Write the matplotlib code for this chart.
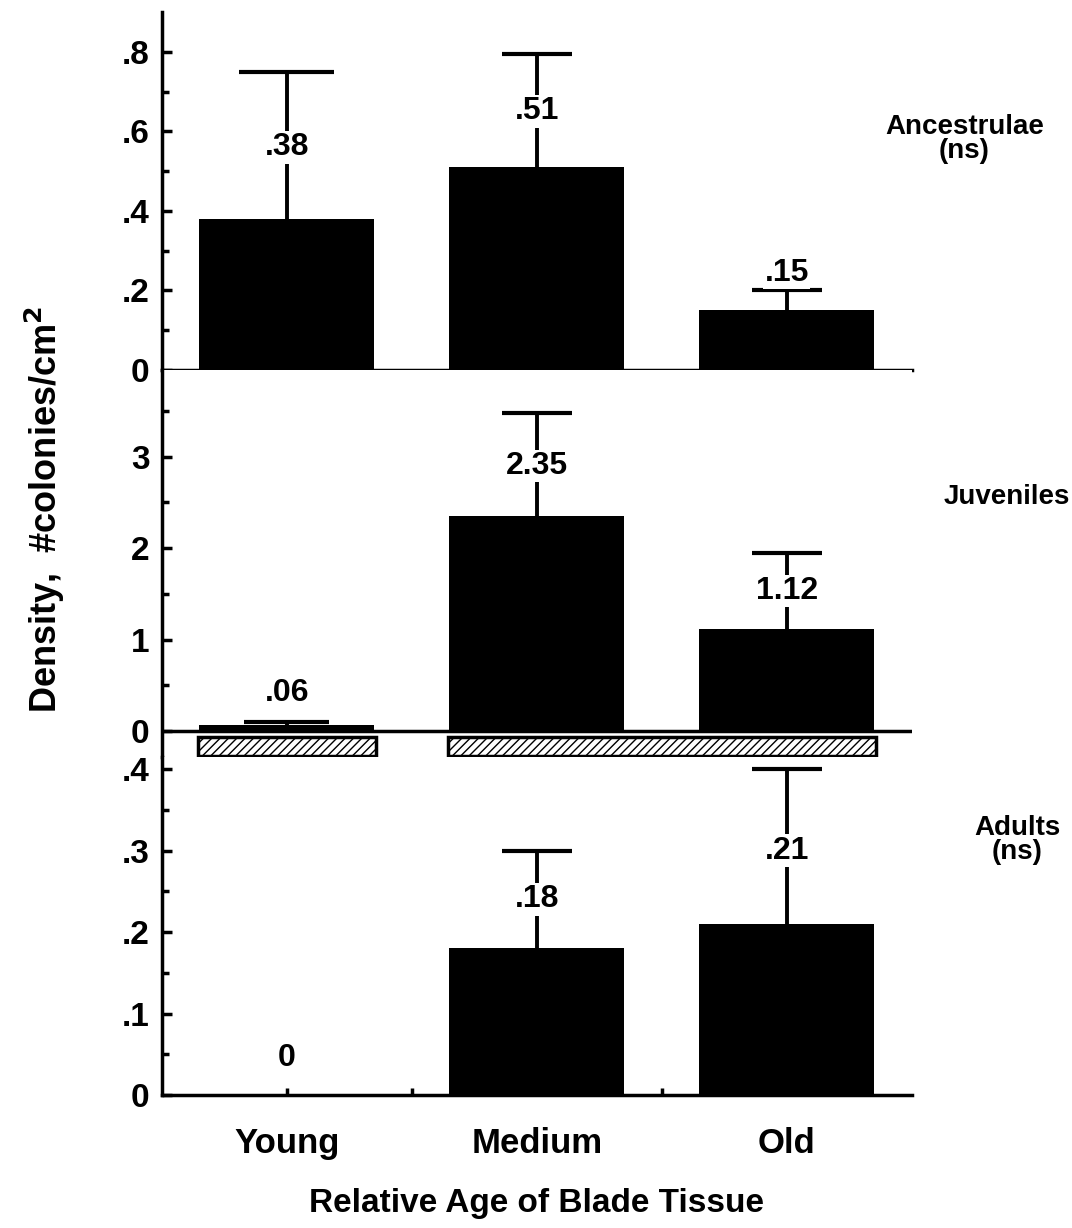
import matplotlib
matplotlib.use("Agg")
import matplotlib.pyplot as plt
import numpy as np

plt.rcParams['font.family'] = ['Liberation Sans', 'DejaVu Sans']
plt.rcParams['font.weight'] = 'bold'
plt.rcParams['mathtext.default'] = 'bf'

# data
ages = ['Young', 'Medium', 'Old']
ancestrulae = [0.38, 0.51, 0.15]
ancestrulae_top = [0.75, 0.795, 0.20]      # top of error bar
juveniles = [0.06, 2.35, 1.12]
juveniles_top = [0.10, 3.48, 1.95]
adults = [0.0, 0.18, 0.21]
adults_top = [None, 0.30, 0.40]

labels_anc = ['.38', '.51', '.15']
labels_juv = ['.06', '2.35', '1.12']
labels_adu = ['0', '.18', '.21']

# significance groups (Young) vs (Medium, Old)
groups = [(0, 0), (1, 2)]

ticks_anc = [0, 0.2, 0.4, 0.6, 0.8]
ticklabels_anc = ['0', '.2', '.4', '.6', '.8']
ticks_juv = [0, 1, 2, 3]
ticklabels_juv = ['0', '1', '2', '3']
ticks_adu = [0, 0.1, 0.2, 0.3, 0.4]
ticklabels_adu = ['0', '.1', '.2', '.3', '.4']

FS = 23
BW = 0.7
x = np.arange(len(ages))

fig = plt.figure(figsize=(10.72, 12.28), dpi=100)
L, W = 0.1511, 0.6996
ax1 = fig.add_axes([L, 0.6987, W, 0.2915])
ax2 = fig.add_axes([L, 0.3836, W, 0.3151])
ax3 = fig.add_axes([L, 0.1083, W, 0.2753])


def style(ax, ticks, ticklabels, minor_step, ylim):
    for s in ['top', 'right']:
        ax.spines[s].set_visible(False)
    ax.spines['left'].set_linewidth(2.5)
    ax.spines['bottom'].set_linewidth(2.5)
    ax.set_xlim(-0.5, 2.5)
    ax.set_ylim(*ylim)
    ax.set_yticks(ticks)
    ax.set_yticklabels(ticklabels, fontsize=FS + 1, fontweight='bold')
    ax.set_yticks(np.arange(0, ylim[1], minor_step), minor=True)
    ax.tick_params(axis='y', which='major', direction='in', length=7, width=2.5, pad=9)
    ax.tick_params(axis='y', which='minor', direction='in', length=5, width=2.5)
    ax.set_xticks([])


def draw(ax, vals, tops, labels, caps, label_pos):
    ax.bar(x, vals, width=BW, color='black', zorder=2)
    for i in range(len(x)):
        if tops[i] is not None:
            ax.vlines(x[i], vals[i], tops[i], color='black', lw=2.8, zorder=1)
            ax.hlines(tops[i], x[i] - caps[i], x[i] + caps[i], color='black', lw=3, zorder=1)
        ax.text(x[i], label_pos[i], labels[i], ha='center', va='center', fontsize=FS,
                fontweight='bold',
                bbox=dict(facecolor='white', edgecolor='none', pad=1), zorder=3)


# top panel
style(ax1, ticks_anc, ticklabels_anc, 0.1, (0, 0.9))
draw(ax1, ancestrulae, ancestrulae_top, labels_anc, [0.19, 0.14, 0.14],
     [0.56, 0.65, 0.245])
ax1.text(2.71, 0.58, 'Ancestrulae\n(ns)', ha='center', va='center', fontsize=20,
         fontweight='bold', linespacing=0.9)

# middle panel
style(ax2, ticks_juv, ticklabels_juv, 0.5, (-0.285, 3.95))
ax2.spines['bottom'].set_visible(False)
ax2.axhline(0, color='black', lw=2.5, zorder=1)
draw(ax2, juveniles, juveniles_top, labels_juv, [0.17, 0.14, 0.14],
     [0.42, 2.9, 1.53])
for a, b in groups:
    ax2.bar((a + b) / 2, -0.2, bottom=-0.07, width=(b - a) + BW + 0.01,
            facecolor='white', edgecolor='black', hatch='////', lw=2.5)
ax2.text(2.88, 2.56, 'Juveniles', ha='center', va='center', fontsize=20,
         fontweight='bold')

# bottom panel
style(ax3, ticks_adu, ticklabels_adu, 0.05, (0, 0.415))
draw(ax3, adults, adults_top, labels_adu, [0.14, 0.14, 0.14],
     [0.045, 0.24, 0.30])
ax3.text(2.92, 0.313, 'Adults\n(ns)', ha='center', va='center', fontsize=20,
         fontweight='bold', linespacing=0.9)
ax3.set_xticks(x)
ax3.set_xticklabels(ages, fontsize=25, fontweight='bold')
ax3.set_xticks([0.5, 1.5], minor=True)
ax3.tick_params(axis='x', which='both', direction='in', length=5, width=2.5, pad=23)

fig.text(L + W / 2, 0.013, 'Relative Age of Blade Tissue', ha='center', va='baseline',
         fontsize=24, fontweight='bold')
fig.text(0.042, 0.585, 'Density,  #colonies/cm$^2$', rotation=90, ha='center',
         va='center', fontsize=26, fontweight='bold')

fig.savefig('out.png', dpi=100)
